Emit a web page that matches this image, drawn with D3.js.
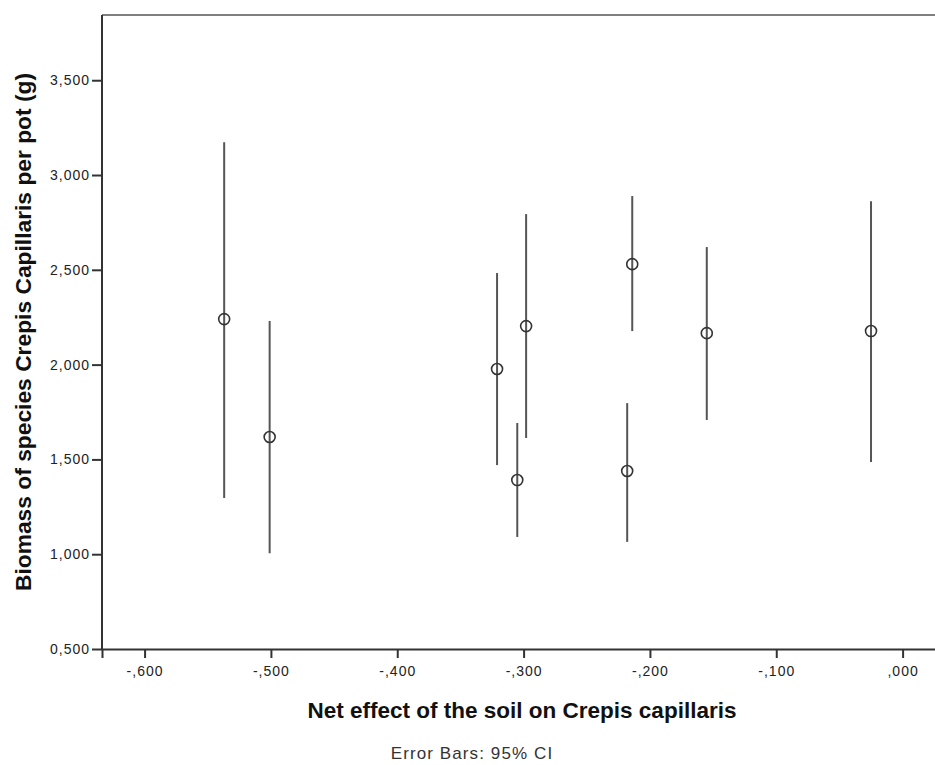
<!DOCTYPE html>
<html>
<head>
<meta charset="utf-8">
<script src="https://cdn.jsdelivr.net/npm/d3@7"></script>
<style>
	body { margin: 0; background: #fff; }
	svg { display: block; font-family: "Liberation Sans", Arial, sans-serif; }
</style>
</head>
<body>
<svg id="chart" width="935" height="765"></svg>
<script>
// net effect of soil (x), mean biomass and 95% CI bounds
var netEffect = [-0.537, -0.501, -0.321, -0.305, -0.298, -0.218, -0.214, -0.155, -0.025];
var meanBiomass = [2.240, 1.618, 1.977, 1.391, 2.203, 1.439, 2.530, 2.166, 2.177];
var ciLow = [1.297, 1.005, 1.470, 1.091, 1.613, 1.065, 2.177, 1.708, 1.486];
var ciHigh = [3.173, 2.230, 2.483, 1.692, 2.794, 1.797, 2.889, 2.620, 2.862];

var xTicks = [-0.6, -0.5, -0.4, -0.3, -0.2, -0.1, 0];
var yTicks = [0.5, 1.0, 1.5, 2.0, 2.5, 3.0, 3.5];

+function(){
	var svg = d3.select('#chart');
	var left = 102, right = 940, top = 15, bottom = 649;

	var x = d3.scaleLinear().domain([-0.6337, 0.0296]).range([left, right]);
	var y = d3.scaleLinear().domain([0.5, 3.844]).range([bottom, top]);

	// comma decimal like the original ( -,600 / 3,500 )
	var fmtX = function(d){
		var s = d3.format('.3f')(Math.abs(d)).replace(/^0/, '').replace('.', ',');
		return (d < 0 ? '-' : '') + s;
	};
	var fmtY = function(d){
		return d3.format('.3f')(d).replace('.', ',');
	};

	// frame
	svg.append('line')
		.attr('x1', left).attr('x2', 935).attr('y1', top).attr('y2', top)
		.attr('stroke', '#808080').attr('stroke-width', 2);

	var gx = svg.append('g')
		.attr('transform', 'translate(0,' + bottom + ')')
		.call(d3.axisBottom(x).tickValues(xTicks).tickFormat(fmtX).tickSize(9).tickPadding(8));
	var gy = svg.append('g')
		.attr('transform', 'translate(' + left + ',0)')
		.call(d3.axisLeft(y).tickValues(yTicks).tickFormat(fmtY).tickSize(10).tickPadding(2));

	[gx, gy].forEach(function(g){
		g.select('.domain').attr('stroke', '#333').attr('stroke-width', 2);
		g.selectAll('.tick line').attr('stroke', '#333').attr('stroke-width', 2);
		g.selectAll('.tick text')
			.attr('fill', '#222')
			.style('font-size', '14px')
			.style('letter-spacing', '1px')
			.style('font-family', '"Liberation Sans", Arial, sans-serif');
	});
	gy.select('.domain').attr('d', 'M0,' + bottom + 'V' + top);

	var idx = d3.range(netEffect.length);

	// error bars
	svg.append('g').selectAll('line')
		.data(idx)
		.enter()
		.append('line')
		.attr('x1', function(i){ return x(netEffect[i]); })
		.attr('x2', function(i){ return x(netEffect[i]); })
		.attr('y1', function(i){ return y(ciLow[i]); })
		.attr('y2', function(i){ return y(ciHigh[i]); })
		.attr('stroke', '#555')
		.attr('stroke-width', 2);

	// means
	svg.append('g').selectAll('circle')
		.data(idx)
		.enter()
		.append('circle')
		.attr('cx', function(i){ return x(netEffect[i]); })
		.attr('cy', function(i){ return y(meanBiomass[i]); })
		.attr('r', 5.5)
		.attr('fill', 'none')
		.attr('stroke', '#333')
		.attr('stroke-width', 1.6);

	// titles
	svg.append('text')
		.attr('x', 522).attr('y', 718)
		.attr('text-anchor', 'middle')
		.style('font-size', '22.5px').style('font-weight', 'bold')
		.attr('fill', '#111')
		.text('Net effect of the soil on Crepis capillaris');

	svg.append('text')
		.attr('transform', 'translate(31,332) rotate(-90)')
		.attr('text-anchor', 'middle')
		.style('font-size', '22.8px').style('font-weight', 'bold')
		.attr('fill', '#111')
		.text('Biomass of species Crepis Capillaris per pot (g)');

	svg.append('text')
		.attr('x', 472).attr('y', 759)
		.attr('text-anchor', 'middle')
		.style('font-size', '17px')
		.style('letter-spacing', '1.1px')
		.attr('fill', '#333')
		.text('Error Bars: 95% CI');
}();
</script>
</body>
</html>
